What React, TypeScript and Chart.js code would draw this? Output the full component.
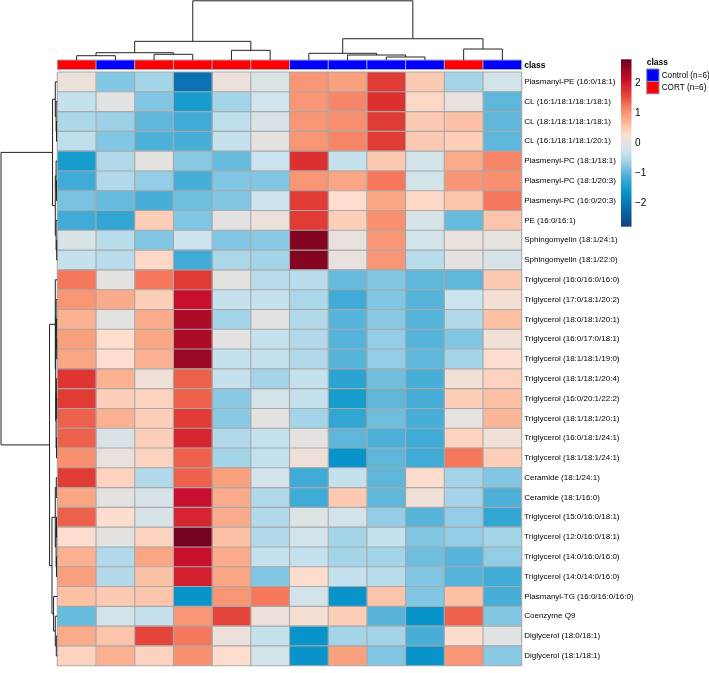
import React, { useEffect, useRef } from "react";
import { Chart, registerables } from "chart.js";

Chart.register(...registerables);

// ---------- DATA ----------
const rowNames = [
  "Plasmanyl-PE (16:0/18:1)",
  "CL (16:1/18:1/18:1/18:1)",
  "CL (18:1/18:1/18:1/18:1)",
  "CL (16:1/18:1/18:1/20:1)",
  "Plasmenyl-PC (18:1/18:1)",
  "Plasmenyl-PC (18:1/20:3)",
  "Plasmenyl-PC (16:0/20:3)",
  "PE (16:0/16:1)",
  "Sphingomyelin (18:1/24:1)",
  "Sphingomyelin (18:1/22:0)",
  "Triglycerol (16:0/16:0/16:0)",
  "Triglycerol (17:0/18:1/20:2)",
  "Triglycerol (18:0/18:1/20:1)",
  "Triglycerol (16:0/17:0/18:1)",
  "Triglycerol (18:1/18:1/19:0)",
  "Triglycerol (18:1/18:1/20:4)",
  "Triglycerol (16:0/20:1/22:2)",
  "Triglycerol (18:1/18:1/20:1)",
  "Triglycerol (16:0/18:1/24:1)",
  "Triglycerol (18:1/18:1/24:1)",
  "Ceramide (18:1/24:1)",
  "Ceramide (18:1/16:0)",
  "Triglycerol (15:0/16:0/18:1)",
  "Triglycerol (12:0/16:0/18:1)",
  "Triglycerol (14:0/16:0/16:0)",
  "Triglycerol (14:0/14:0/16:0)",
  "Plasmanyl-TG (16:0/16:0/16:0)",
  "Coenzyme Q9",
  "Diglycerol (18:0/18:1)",
  "Diglycerol (18:1/18:1)",
];

// sample class for each displayed column (left to right)
const colClasses = ["CORT", "Control", "CORT", "CORT", "CORT", "CORT", "Control", "Control", "Control", "Control", "CORT", "Control"];
const classNames = ["Control", "CORT"];
const classLabels = ["Control (n=6)", "CORT (n=6)"];
const classColors = ["#0000ff", "#ff0000"];

// z-scores, one array per row (12 samples)
const values: number[][] = [
  [0.1, -0.8, -0.6, -2.1, 0.1, -0.1, 1.0, 0.9, 1.7, 0.5, -0.6, -0.2],
  [-0.35, -0.05, -0.8, -1.5, -0.6, -0.25, 1.0, 1.15, 1.8, 0.35, 0.05, -1.0],
  [-0.55, -0.65, -1.0, -1.2, -0.4, -0.15, 1.0, 1.05, 1.7, 0.5, 0.6, -1.0],
  [-0.4, -0.8, -1.1, -1.15, -0.35, 0.0, 1.0, 1.15, 1.7, 0.5, 0.45, -1.0],
  [-1.5, -0.5, 0.0, -0.75, -0.95, -0.3, 1.8, -0.35, 0.5, -0.2, 0.8, 1.15],
  [-1.2, -0.5, -0.7, -1.15, -0.8, -0.8, 1.0, 0.85, 1.25, -0.2, 1.0, 1.05],
  [-0.85, -0.95, -1.15, -0.9, -0.8, -0.3, 1.7, 0.3, 0.85, 0.35, 0.55, 1.25],
  [-1.2, -1.3, 0.45, -0.8, 0.0, 0.1, 1.7, 0.45, 1.05, -0.15, -0.95, 0.55],
  [-0.15, -0.45, -0.8, -0.3, -0.8, -0.75, 2.6, 0.05, 1.0, -0.2, 0.05, 0.02],
  [-0.35, -0.45, 0.35, -1.2, -0.55, -0.6, 2.6, 0.05, 1.0, -0.45, 0.0, -0.15],
  [1.25, 0.0, 1.25, 1.7, 0.0, -0.45, -0.45, -0.95, -0.8, -1.0, -1.0, 0.5],
  [1.0, 0.8, 0.45, 2.1, -0.35, -0.35, -0.55, -1.2, -0.8, -1.05, -0.3, 0.2],
  [0.75, 0.0, 0.8, 2.3, -0.6, 0.0, -0.5, -1.05, -0.75, -1.05, -0.5, 0.6],
  [0.9, 0.3, 0.85, 2.3, 0.0, -0.35, -0.5, -1.05, -0.7, -1.05, -0.8, 0.15],
  [0.85, 0.3, 0.75, 2.45, -0.35, -0.35, -0.5, -1.05, -0.7, -1.0, -0.6, 0.3],
  [1.75, 0.75, 0.15, 1.4, -0.35, -0.6, -0.35, -1.35, -0.9, -1.15, 0.15, 0.4],
  [1.7, 0.45, 0.4, 1.4, -0.75, -0.2, -0.35, -1.5, -1.0, -1.15, 0.45, 0.6],
  [1.4, 0.75, 0.45, 1.7, -0.75, 0.0, -0.6, -1.3, -0.9, -1.15, 0.02, 0.7],
  [1.4, -0.15, 0.45, 1.9, -0.5, -0.35, 0.0, -1.0, -1.1, -1.2, 0.4, 0.15],
  [1.05, 0.05, 0.4, 1.4, -0.6, -0.35, 0.12, -1.65, -1.0, -1.2, 1.25, 0.45],
  [1.7, 0.4, -0.5, 1.4, 0.9, -0.2, -1.2, -0.35, -1.0, 0.3, -0.6, -0.8],
  [0.85, 0.0, -0.15, 2.1, 0.8, -0.5, -1.2, 0.5, -1.0, 0.15, -0.6, -1.1],
  [1.4, 0.3, -0.15, 1.9, 0.8, -0.5, -0.1, -0.2, -0.7, -1.05, -0.7, -1.3],
  [0.3, 0.0, 0.4, 2.7, 0.6, -0.5, -0.2, -0.6, -0.35, -0.8, -0.7, -0.6],
  [0.75, -0.5, 0.85, 2.1, 0.8, -0.35, -0.35, -0.6, -0.6, -0.9, -1.05, -0.7],
  [0.9, -0.5, 0.6, 1.95, 0.85, -0.8, 0.3, -0.35, -0.45, -0.8, -1.05, -1.2],
  [0.6, 0.5, 0.55, -1.65, 1.0, 1.25, -0.2, -1.65, 0.55, -0.8, 0.6, -1.15],
  [-0.95, -0.2, -0.35, 1.0, 1.6, 0.1, 0.2, 0.45, -1.05, -1.65, 1.4, -0.8],
  [0.8, 0.55, 1.6, 1.25, 0.1, -0.35, -1.65, -0.6, -0.6, -1.15, 0.3, -0.05],
  [0.4, 0.75, 0.4, 1.05, 0.3, -0.2, -1.65, 0.9, -0.8, -1.65, 1.0, -0.75],
];

// colour scale
const scaleMin = -2.8;
const scaleMax = 2.8;
const scaleStops = [-2.8, -2.2, -1.6, -1.1, -0.6, -0.3, 0, 0.3, 0.6, 0.9, 1.2, 1.5, 1.8, 2.1, 2.4, 2.8];
const scaleColors = ["#163f7c", "#0a6aae", "#0898cc", "#4db0d8", "#a4d4e8", "#cbe4ef", "#e4e2e0", "#fdddcd", "#fcc0a4", "#f9a07e", "#f77f62", "#e85040", "#dc3030", "#c8102e", "#a00a26", "#67001f"];
const legendTicks = [2, 1, 0, -1, -2];

// column dendrogram: [left, right, height]; negative = leaf (1-based display column)
const colMerges: [number, number, number][] = [
  [-9, -10, 3.0],
  [-8, 1, 5.0],
  [-1, -2, 4.3],
  [-3, -4, 5.7],
  [-7, 2, 6.7],
  [3, 4, 7.3],
  [-5, -6, 9.7],
  [-11, -12, 11.0],
  [6, 7, 18.7],
  [5, 8, 21.3],
  [9, 10, 59.3],
];

// row dendrogram: [top, bottom, height]; negative = leaf (1-based display row)
const rowMerges: [number, number, number][] = [
  [-3, -4, 0.8],     // 1
  [-2, 1, 1.2],      // 2
  [-1, 2, 2.0],      // 3
  [-6, -7, 0.8],     // 4
  [-5, 4, 1.2],      // 5
  [-9, -10, 0.6],    // 6
  [-8, 6, 1.2],      // 7
  [5, 7, 2.0],       // 8
  [3, 8, 4.7],       // 9
  [-14, -15, 0.6],   // 10
  [-13, 10, 0.9],    // 11
  [-12, 11, 1.2],    // 12
  [-17, -18, 0.6],   // 13
  [-16, 13, 0.9],    // 14
  [-19, -20, 0.8],   // 15
  [14, 15, 1.2],     // 16
  [12, 16, 1.6],     // 17
  [-11, 17, 2.0],    // 18
  [-21, -22, 1.0],   // 19
  [-23, -24, 0.8],   // 20
  [-25, -26, 0.8],   // 21
  [20, 21, 1.2],     // 22
  [19, 22, 2.0],     // 23
  [-29, -30, 1.0],   // 24
  [-28, 24, 2.0],    // 25
  [-27, 25, 3.7],    // 26
  [23, 26, 5.3],     // 27
  [18, 27, 7.7],     // 28
  [9, 28, 56.0],     // 29
];

// ---------- HELPERS ----------
function hexToRgb(h: string) {
  const n = parseInt(h.slice(1), 16);
  return [(n >> 16) & 255, (n >> 8) & 255, n & 255];
}
function colorFor(v: number) {
  if (v <= scaleStops[0]) return scaleColors[0];
  for (let i = 1; i < scaleStops.length; i++) {
    if (v <= scaleStops[i]) {
      const t = (v - scaleStops[i - 1]) / (scaleStops[i] - scaleStops[i - 1]);
      const a = hexToRgb(scaleColors[i - 1]);
      const b = hexToRgb(scaleColors[i]);
      const c = a.map((x, k) => Math.round(x + (b[k] - x) * t));
      return `rgb(${c[0]},${c[1]},${c[2]})`;
    }
  }
  return scaleColors[scaleColors.length - 1];
}

function layoutDendro(merges: [number, number, number][], leafPos: (i: number) => number) {
  const pos: number[] = [];
  const hts: number[] = [];
  const getPos = (id: number) => (id < 0 ? leafPos(-id - 1) : pos[id - 1]);
  const getH = (id: number) => (id < 0 ? 0 : hts[id - 1]);
  merges.forEach(([a, b, h], i) => {
    pos[i] = (getPos(a) + getPos(b)) / 2;
    hts[i] = h;
  });
  return { getPos, getH };
}

const FONT = "'Liberation Sans', Arial, Helvetica, sans-serif";

const extrasPlugin = {
  id: "heatExtras",
  afterDatasetsDraw(chart: any) {
    const { ctx, chartArea, scales } = chart;
    const xs = scales.x;
    const ys = scales.y;
    const nRows = rowNames.length;
    const nCols = colClasses.length;
    ctx.save();

    // cell grid lines
    ctx.strokeStyle = "#a8a8a8";
    ctx.lineWidth = 1.1;
    ctx.beginPath();
    for (let c = 0; c <= nCols; c++) {
      const x = xs.getPixelForValue(c);
      ctx.moveTo(x, chartArea.top);
      ctx.lineTo(x, chartArea.bottom);
    }
    for (let r = 0; r <= nRows; r++) {
      const y = ys.getPixelForValue(r - 0.5);
      ctx.moveTo(chartArea.left, y);
      ctx.lineTo(chartArea.right, y);
    }
    ctx.stroke();

    // class annotation bar
    const barTop = chartArea.top - 12;
    const barBot = chartArea.top - 2.5;
    for (let c = 0; c < nCols; c++) {
      const x0 = xs.getPixelForValue(c);
      const x1 = xs.getPixelForValue(c + 1);
      ctx.fillStyle = classColors[classNames.indexOf(colClasses[c])];
      ctx.fillRect(x0, barTop, x1 - x0, barBot - barTop);
    }
    ctx.strokeStyle = "#a8a8b8";
    ctx.lineWidth = 1;
    ctx.beginPath();
    for (let c = 0; c <= nCols; c++) {
      const x = xs.getPixelForValue(c);
      ctx.moveTo(x, barTop);
      ctx.lineTo(x, barBot);
    }
    ctx.moveTo(chartArea.left, barTop);
    ctx.lineTo(chartArea.right, barTop);
    ctx.moveTo(chartArea.left, barBot);
    ctx.lineTo(chartArea.right, barBot);
    ctx.stroke();
    ctx.fillStyle = "#000";
    ctx.font = `bold 8.5px ${FONT}`;
    ctx.textBaseline = "middle";
    ctx.textAlign = "left";
    ctx.fillText("class", chartArea.right + 2.5, (barTop + barBot) / 2 + 0.5);

    // column dendrogram
    ctx.strokeStyle = "#222";
    ctx.lineWidth = 1;
    const colRoot = colMerges[colMerges.length - 1][2];
    const kc = (barTop - 0.8) / colRoot;
    const cd = layoutDendro(colMerges, (i) => xs.getPixelForValue(i + 0.5));
    ctx.beginPath();
    colMerges.forEach(([a, b, h]) => {
      const xa = cd.getPos(a), xb = cd.getPos(b);
      const ya = barTop - cd.getH(a) * kc, yb = barTop - cd.getH(b) * kc;
      const yh = barTop - h * kc;
      ctx.moveTo(xa, ya);
      ctx.lineTo(xa, yh);
      ctx.lineTo(xb, yh);
      ctx.lineTo(xb, yb);
    });
    ctx.stroke();

    // row dendrogram
    const rowRoot = rowMerges[rowMerges.length - 1][2];
    const baseX = chartArea.left;
    const kr = (baseX - 1) / rowRoot;
    const rd = layoutDendro(rowMerges, (i) => ys.getPixelForValue(i));
    ctx.beginPath();
    rowMerges.forEach(([a, b, h]) => {
      const ya = rd.getPos(a), yb = rd.getPos(b);
      const xa = baseX - rd.getH(a) * kr, xb = baseX - rd.getH(b) * kr;
      const xh = baseX - h * kr;
      ctx.moveTo(xa, ya);
      ctx.lineTo(xh, ya);
      ctx.lineTo(xh, yb);
      ctx.lineTo(xb, yb);
    });
    ctx.stroke();

    // colour legend
    const lgX = chartArea.right + 99.3;
    const lgW = 10.5;
    const lgTop = chartArea.top - 12.7;
    const lgBot = chartArea.top + 154.7;
    const grad = ctx.createLinearGradient(0, lgBot, 0, lgTop);
    scaleStops.forEach((s, i) => grad.addColorStop((s - scaleMin) / (scaleMax - scaleMin), scaleColors[i]));
    ctx.fillStyle = grad;
    ctx.fillRect(lgX, lgTop, lgW, lgBot - lgTop);
    ctx.fillStyle = "#000";
    ctx.font = `10px ${FONT}`;
    ctx.textAlign = "left";
    ctx.textBaseline = "middle";
    legendTicks.forEach((t) => {
      const y = lgBot - ((t - scaleMin) / (scaleMax - scaleMin)) * (lgBot - lgTop);
      ctx.fillText(t < 0 ? "\u2212" + Math.abs(t) : String(t), lgX + 14, y);
    });

    // class legend
    const clX = chartArea.right + 125;
    const clTop = chartArea.top - 3;
    ctx.font = `bold 8.5px ${FONT}`;
    ctx.textBaseline = "middle";
    ctx.fillText("class", clX, clTop - 6.5);
    ctx.font = `8.2px ${FONT}`;
    classNames.forEach((n, i) => {
      const y = clTop + i * 12.5;
      ctx.fillStyle = classColors[i];
      ctx.fillRect(clX, y, 12.3, 12.3);
      ctx.strokeStyle = "#9090a8";
      ctx.lineWidth = 1;
      ctx.strokeRect(clX, y, 12.3, 12.3);
      ctx.fillStyle = "#000";
      ctx.fillText(classLabels[i], clX + 15, y + 6.5);
    });

    ctx.restore();
  },
};

export default function App() {
  const ref = useRef<HTMLCanvasElement | null>(null);
  useEffect(() => {
    if (!ref.current) return;
    const datasets = colClasses.map((_, c) => ({
      label: "S" + (c + 1),
      data: rowNames.map(() => [c, c + 1]),
      backgroundColor: rowNames.map((_, r) => colorFor(values[r][c])),
      borderWidth: 0,
      barPercentage: 1,
      categoryPercentage: 1,
      grouped: false,
    }));
    const chart = new Chart(ref.current, {
      type: "bar",
      data: { labels: rowNames, datasets: datasets as any },
      options: {
        indexAxis: "y",
        animation: false,
        responsive: false,
        devicePixelRatio: 1,
        layout: { padding: { left: 57.3, top: 72, right: 0, bottom: 1 } },
        plugins: { legend: { display: false }, tooltip: { enabled: false } },
        scales: {
          x: { type: "linear", min: 0, max: colClasses.length, display: false },
          y: {
            type: "category",
            position: "right",
            offset: true,
            grid: { display: false, drawTicks: false },
            border: { display: false },
            ticks: { color: "#000", font: { family: FONT, size: 8 }, padding: 2.5, autoSkip: false },
            afterFit: (s: any) => {
              s.width = 187.3;
            },
          },
        },
      } as any,
      plugins: [extrasPlugin],
    });
    return () => chart.destroy();
  }, []);
  return (
    <div style={{ position: "absolute", left: 0, top: 0, width: 709, height: 673, background: "#fff" }}>
      <canvas ref={ref} width={709} height={673} />
    </div>
  );
}
